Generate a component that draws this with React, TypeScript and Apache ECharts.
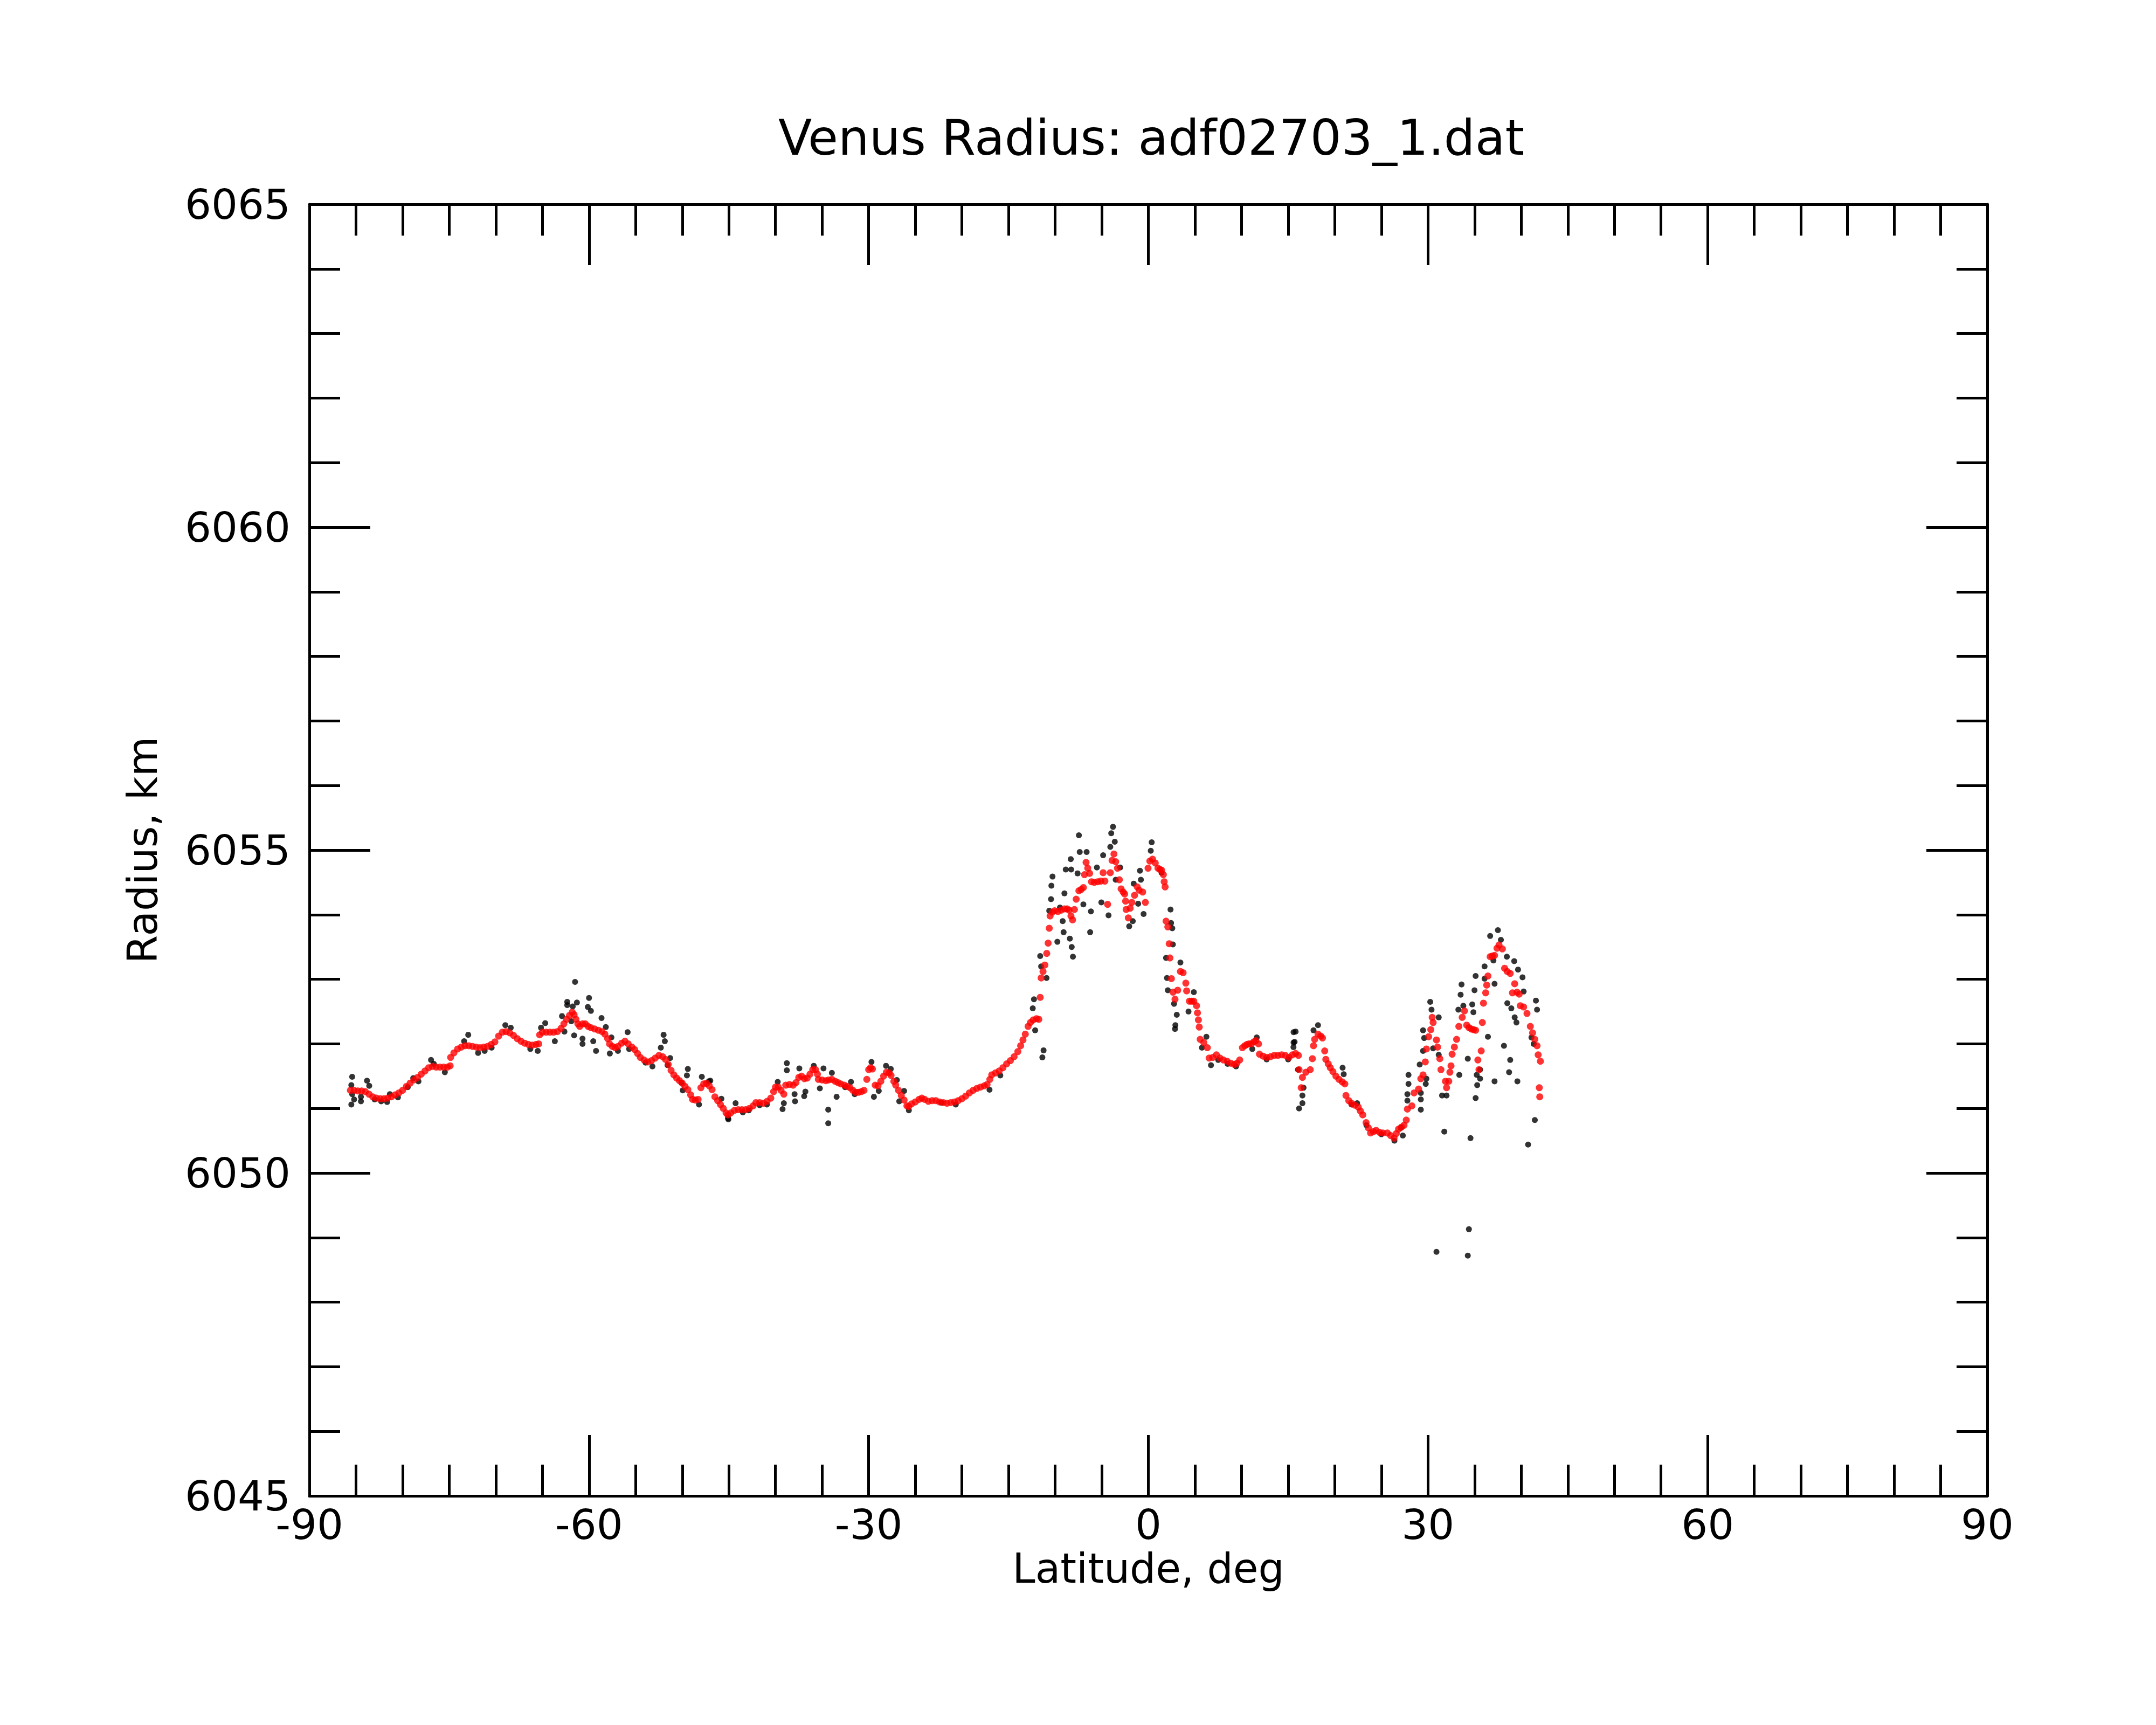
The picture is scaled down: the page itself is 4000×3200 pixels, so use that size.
import React, { useEffect, useRef } from "react";
import * as echarts from "echarts";

const titleText = "Venus Radius: adf02703_1.dat";
const xName = "Latitude, deg";
const yName = "Radius, km";
const xRange = [-90, 90];
const yRange = [6045, 6065];

// red: smoothed radius [latitude, radius]
const redPoints: [number, number][] = [
  [-85.6, 6051.28], [-85.2, 6051.28], [-84.8, 6051.27], [-84.4, 6051.27], [-84.0, 6051.26],
  [-83.6, 6051.22], [-83.2, 6051.18], [-82.8, 6051.16], [-82.4, 6051.15], [-82.0, 6051.15],
  [-81.6, 6051.16], [-81.2, 6051.18], [-80.8, 6051.21], [-80.4, 6051.24], [-80.0, 6051.28],
  [-79.6, 6051.34], [-79.2, 6051.39], [-78.8, 6051.44], [-78.4, 6051.48], [-78.0, 6051.53],
  [-77.6, 6051.58], [-77.2, 6051.63], [-76.8, 6051.65], [-76.4, 6051.64], [-76.0, 6051.64],
  [-75.6, 6051.64], [-75.2, 6051.64], [-74.9, 6051.66], [-74.85, 6051.79], [-74.5, 6051.86],
  [-74.1, 6051.92], [-73.7, 6051.95], [-73.3, 6051.97], [-72.9, 6051.97], [-72.5, 6051.96],
  [-72.1, 6051.95], [-71.7, 6051.94], [-71.3, 6051.95], [-70.9, 6051.96], [-70.5, 6051.99],
  [-70.1, 6052.03], [-69.7, 6052.12], [-69.3, 6052.18], [-68.9, 6052.19], [-68.5, 6052.17],
  [-68.1, 6052.13], [-67.7, 6052.08], [-67.3, 6052.04], [-66.9, 6052.01], [-66.5, 6051.99],
  [-66.1, 6051.98], [-65.7, 6051.99], [-65.4, 6052.0], [-65.3, 6052.14], [-65.0, 6052.18],
  [-64.6, 6052.18], [-64.2, 6052.18], [-63.8, 6052.18], [-63.4, 6052.19], [-63.0, 6052.24],
  [-62.7, 6052.31], [-62.4, 6052.38], [-62.1, 6052.44], [-61.8, 6052.49], [-61.6, 6052.45],
  [-61.4, 6052.38], [-61.2, 6052.31], [-61.0, 6052.27], [-60.7, 6052.31], [-60.4, 6052.31],
  [-60.1, 6052.27], [-59.8, 6052.25], [-59.4, 6052.23], [-59.0, 6052.21], [-58.6, 6052.19],
  [-58.3, 6052.15], [-58.0, 6052.08], [-57.8, 6052.0], [-57.5, 6051.96], [-57.2, 6051.94],
  [-56.9, 6051.96], [-56.5, 6052.01], [-56.15, 6052.04], [-55.8, 6052.0], [-55.4, 6051.95],
  [-55.1, 6051.91], [-54.8, 6051.85], [-54.5, 6051.79], [-54.1, 6051.75], [-53.7, 6051.72],
  [-53.3, 6051.74], [-52.9, 6051.78], [-52.5, 6051.82], [-52.1, 6051.8], [-51.8, 6051.76],
  [-51.5, 6051.68], [-51.2, 6051.59], [-50.9, 6051.52], [-50.6, 6051.47], [-50.3, 6051.43],
  [-50.0, 6051.39], [-49.7, 6051.34], [-49.4, 6051.29], [-49.1, 6051.21], [-48.9, 6051.14],
  [-48.6, 6051.13], [-48.3, 6051.14], [-48.0, 6051.32], [-47.7, 6051.38], [-47.4, 6051.39],
  [-47.1, 6051.35], [-46.8, 6051.29], [-46.5, 6051.18], [-46.2, 6051.12], [-45.9, 6051.06],
  [-45.6, 6051.0], [-45.3, 6050.93], [-45.1, 6050.9], [-44.8, 6050.93], [-44.4, 6050.97],
  [-44.0, 6050.98], [-43.6, 6050.98], [-43.2, 6050.98], [-42.8, 6051.0], [-42.4, 6051.04],
  [-42.1, 6051.09], [-41.7, 6051.09], [-41.3, 6051.08], [-40.9, 6051.11], [-40.5, 6051.16],
  [-40.2, 6051.26], [-40.0, 6051.33], [-39.7, 6051.33], [-39.4, 6051.28], [-39.1, 6051.22],
  [-38.9, 6051.36], [-38.5, 6051.37], [-38.1, 6051.36], [-37.8, 6051.4], [-37.5, 6051.48],
  [-37.2, 6051.5], [-36.9, 6051.46], [-36.6, 6051.47], [-36.3, 6051.53], [-36.0, 6051.6],
  [-35.7, 6051.6], [-35.5, 6051.53], [-35.4, 6051.45], [-35.0, 6051.44], [-34.6, 6051.43],
  [-34.3, 6051.44], [-33.95, 6051.45], [-33.6, 6051.42], [-33.3, 6051.4], [-33.0, 6051.38],
  [-32.6, 6051.36], [-32.3, 6051.34], [-32.0, 6051.32], [-31.7, 6051.28], [-31.4, 6051.25],
  [-31.1, 6051.25], [-30.8, 6051.26], [-30.5, 6051.28], [-30.2, 6051.45], [-30.0, 6051.6],
  [-29.8, 6051.63], [-29.6, 6051.61], [-29.3, 6051.36], [-29.0, 6051.35], [-28.7, 6051.42],
  [-28.4, 6051.5], [-28.1, 6051.56], [-27.8, 6051.55], [-27.6, 6051.51], [-27.3, 6051.42],
  [-27.1, 6051.36], [-26.8, 6051.28], [-26.5, 6051.2], [-26.2, 6051.13], [-25.9, 6051.04],
  [-25.7, 6051.03], [-25.4, 6051.07], [-25.0, 6051.1], [-24.6, 6051.14], [-24.3, 6051.16],
  [-24.0, 6051.14], [-23.6, 6051.11], [-23.2, 6051.12], [-22.8, 6051.12], [-22.4, 6051.1],
  [-22.0, 6051.09], [-21.6, 6051.08], [-21.2, 6051.09], [-20.8, 6051.1], [-20.4, 6051.12],
  [-20.0, 6051.15], [-19.6, 6051.19], [-19.2, 6051.24], [-18.8, 6051.28], [-18.4, 6051.31],
  [-18.0, 6051.33], [-17.6, 6051.35], [-17.3, 6051.37], [-17.0, 6051.45], [-16.8, 6051.52],
  [-16.4, 6051.55], [-16.0, 6051.58], [-15.6, 6051.63], [-15.2, 6051.69], [-14.8, 6051.74],
  [-14.4, 6051.8], [-14.0, 6051.88], [-13.7, 6051.97], [-13.45, 6052.06], [-13.2, 6052.15],
  [-12.9, 6052.27], [-12.65, 6052.33], [-12.35, 6052.37], [-12.0, 6052.39], [-11.75, 6052.38],
  [-11.6, 6052.72], [-11.5, 6053.02], [-11.3, 6053.12], [-11.1, 6053.22], [-10.9, 6053.4],
  [-10.75, 6053.56], [-10.63, 6053.79], [-10.54, 6053.98], [-10.3, 6054.04], [-10.05, 6054.06],
  [-9.7, 6054.05], [-9.35, 6054.07], [-9.0, 6054.09], [-8.7, 6054.09], [-8.5, 6054.07],
  [-8.3, 6053.98], [-8.13, 6053.92], [-7.93, 6054.08], [-7.74, 6054.24], [-7.45, 6054.37],
  [-7.2, 6054.39], [-6.97, 6054.42], [-6.85, 6054.62], [-6.68, 6054.81], [-6.5, 6054.72],
  [-6.3, 6054.64], [-6.1, 6054.51], [-5.8, 6054.5], [-5.43, 6054.51], [-5.1, 6054.52],
  [-4.85, 6054.65], [-4.66, 6054.52], [-4.37, 6054.16], [-4.08, 6054.65], [-3.89, 6054.84],
  [-3.69, 6054.94], [-3.5, 6054.82], [-3.31, 6054.72], [-3.11, 6054.54], [-2.92, 6054.4],
  [-2.7, 6054.35], [-2.54, 6054.32], [-2.44, 6054.21], [-2.38, 6054.08], [-2.15, 6053.95],
  [-1.95, 6054.1], [-1.77, 6054.19], [-1.48, 6054.3], [-1.19, 6054.43], [-0.99, 6054.38],
  [-0.61, 6054.35], [-0.32, 6054.19], [-0.03, 6054.72], [0.16, 6054.83], [0.45, 6054.86],
  [0.74, 6054.8], [1.03, 6054.72], [1.25, 6054.7], [1.42, 6054.69], [1.61, 6054.62],
  [1.7, 6054.51], [1.8, 6054.43], [1.9, 6053.9], [2.09, 6053.81], [2.24, 6053.55],
  [2.32, 6053.33], [2.47, 6053.01], [2.65, 6052.8], [2.86, 6052.69], [3.15, 6052.83],
  [3.44, 6053.12], [3.73, 6053.1], [4.02, 6052.94], [4.11, 6052.82], [4.4, 6052.66],
  [4.65, 6052.66], [4.88, 6052.66], [5.17, 6052.59], [5.27, 6052.48], [5.37, 6052.37],
  [5.46, 6052.26], [5.56, 6052.07], [5.95, 6052.02], [6.33, 6051.94], [6.52, 6051.78],
  [6.91, 6051.79], [7.3, 6051.83], [7.68, 6051.78], [8.05, 6051.75], [8.45, 6051.73],
  [8.85, 6051.7], [9.22, 6051.68], [9.5, 6051.7], [9.8, 6051.75], [10.09, 6051.94],
  [10.35, 6051.97], [10.57, 6051.99], [10.8, 6052.0], [11.05, 6052.0], [11.3, 6052.03],
  [11.53, 6052.05], [11.82, 6052.0], [11.92, 6051.84], [12.3, 6051.81], [12.69, 6051.79],
  [13.1, 6051.8], [13.5, 6051.82], [13.9, 6051.82], [14.3, 6051.83], [14.7, 6051.82],
  [15.09, 6051.79], [15.45, 6051.83], [15.8, 6051.85], [16.1, 6051.82], [16.17, 6051.6],
  [16.4, 6051.32], [16.53, 6051.48], [16.9, 6051.56], [17.37, 6051.6], [17.6, 6051.77],
  [17.72, 6051.97], [17.84, 6052.07], [18.2, 6052.15], [18.5, 6052.12], [18.68, 6052.09],
  [18.92, 6051.89], [19.04, 6051.76], [19.3, 6051.69], [19.52, 6051.63], [19.8, 6051.57],
  [20.12, 6051.5], [20.45, 6051.45], [20.8, 6051.41], [21.08, 6051.38], [21.2, 6051.2],
  [21.5, 6051.12], [21.8, 6051.08], [22.15, 6051.05], [22.52, 6051.02], [22.75, 6050.96],
  [23.0, 6050.9], [23.36, 6050.78], [23.6, 6050.7], [23.84, 6050.62], [24.15, 6050.64],
  [24.44, 6050.66], [24.8, 6050.63], [25.16, 6050.62], [25.64, 6050.62], [26.0, 6050.58],
  [26.36, 6050.54], [26.6, 6050.61], [26.84, 6050.68], [27.15, 6050.71], [27.43, 6050.74],
  [27.67, 6050.82], [27.79, 6050.99], [28.27, 6051.04], [28.51, 6051.24], [28.99, 6051.3],
  [29.23, 6051.46], [29.47, 6051.52], [29.71, 6051.72], [29.83, 6051.92], [30.07, 6052.11],
  [30.3, 6052.22], [30.45, 6052.41], [30.55, 6052.33], [30.91, 6052.06], [31.03, 6051.95],
  [31.27, 6051.77], [31.39, 6051.6], [31.87, 6051.42], [31.99, 6051.32], [32.23, 6051.42],
  [32.35, 6051.56], [32.47, 6051.66], [32.59, 6051.84], [32.83, 6051.95], [33.07, 6052.07],
  [33.31, 6052.27], [33.67, 6052.41], [33.91, 6052.51], [34.15, 6052.29], [34.4, 6052.25],
  [34.63, 6052.23], [34.87, 6052.22], [35.11, 6052.21], [35.35, 6051.75], [35.47, 6051.6],
  [35.71, 6051.89], [35.83, 6052.33], [35.95, 6052.63], [36.19, 6052.79], [36.3, 6052.91],
  [36.43, 6053.05], [36.67, 6053.35], [36.9, 6053.36], [37.14, 6053.37], [37.4, 6053.48],
  [37.62, 6053.53], [37.98, 6053.47], [38.22, 6053.17], [38.5, 6053.12], [38.82, 6053.09],
  [39.06, 6052.79], [39.3, 6052.93], [39.55, 6052.8], [39.78, 6052.77], [39.9, 6052.59],
  [40.26, 6052.57], [40.62, 6052.47], [40.98, 6052.27], [41.22, 6052.17], [41.46, 6052.07],
  [41.7, 6051.97], [41.82, 6051.83], [42.06, 6051.73], [41.94, 6051.32], [41.99, 6051.18],
];

// black: raw radius [latitude, radius]
const blackPoints: [number, number][] = [
  [-85.41, 6051.49], [-85.5, 6051.36], [-85.41, 6051.22], [-85.5, 6051.06], [-85.2, 6051.14],
  [-84.47, 6051.18], [-84.47, 6051.11], [-83.82, 6051.43], [-83.58, 6051.35], [-83.0, 6051.14],
  [-82.3, 6051.11], [-81.66, 6051.1], [-81.37, 6051.22], [-80.5, 6051.17], [-79.45, 6051.33],
  [-78.86, 6051.47], [-78.3, 6051.42], [-76.95, 6051.75], [-76.65, 6051.69], [-75.47, 6051.56],
  [-73.4, 6052.04], [-72.96, 6052.14], [-71.9, 6051.86], [-71.2, 6051.89], [-70.45, 6051.94],
  [-68.98, 6052.29], [-68.4, 6052.25], [-66.3, 6051.92], [-65.5, 6051.89], [-65.15, 6052.25],
  [-64.7, 6052.32], [-63.67, 6052.04], [-62.9, 6052.43], [-62.64, 6052.19], [-62.34, 6052.65],
  [-62.34, 6052.6], [-61.9, 6052.35], [-61.75, 6052.58], [-61.5, 6052.96], [-61.6, 6052.13],
  [-61.3, 6052.64], [-60.7, 6052.08], [-60.7, 6052.0], [-60.0, 6052.71], [-60.13, 6052.57],
  [-59.8, 6052.51], [-59.55, 6052.04], [-59.25, 6051.89], [-58.66, 6052.4], [-58.2, 6052.26],
  [-57.6, 6052.1], [-57.77, 6051.85], [-56.9, 6051.89], [-55.86, 6052.18], [-55.7, 6051.92],
  [-53.94, 6051.71], [-53.2, 6051.65], [-52.0, 6052.14], [-51.87, 6052.04], [-52.3, 6051.94],
  [-51.58, 6051.67], [-51.3, 6051.78], [-49.4, 6051.61], [-49.5, 6051.51], [-49.95, 6051.28],
  [-50.1, 6051.4], [-48.2, 6051.06], [-47.9, 6051.49], [-47.15, 6051.42], [-45.8, 6051.15],
  [-45.1, 6050.85], [-46.99, 6051.43], [-45.05, 6050.83], [-44.28, 6051.08], [-43.5, 6050.94],
  [-42.86, 6050.97], [-41.7, 6051.05], [-40.92, 6051.06], [-39.76, 6051.41], [-39.24, 6050.99],
  [-39.1, 6051.08], [-38.78, 6051.7], [-38.78, 6051.59], [-37.95, 6051.22], [-37.9, 6051.11],
  [-37.44, 6051.62], [-36.92, 6051.19], [-36.79, 6051.26], [-35.89, 6051.66], [-35.24, 6051.31],
  [-34.85, 6051.62], [-34.34, 6050.98], [-34.34, 6050.77], [-33.95, 6051.55], [-33.44, 6051.18],
  [-32.53, 6051.33], [-31.9, 6051.41], [-31.5, 6051.22], [-29.7, 6051.72], [-29.44, 6051.18],
  [-28.92, 6051.27], [-28.14, 6051.66], [-27.63, 6051.61], [-26.98, 6051.44], [-26.72, 6051.11],
  [-26.2, 6051.27], [-25.69, 6050.97], [-22.2, 6051.09], [-20.66, 6051.06], [-17.04, 6051.29],
  [-15.88, 6051.51], [-12.4, 6052.55], [-12.27, 6052.69], [-12.14, 6052.21], [-11.24, 6051.9],
  [-11.37, 6051.79], [-11.6, 6053.36], [-11.5, 6053.2], [-10.92, 6053.02], [-10.44, 6054.24],
  [-10.4, 6054.45], [-10.28, 6054.59], [-10.63, 6054.06], [-9.76, 6053.58], [-9.48, 6054.11],
  [-9.19, 6053.9], [-9.09, 6053.73], [-8.86, 6054.7], [-9.0, 6054.33], [-8.32, 6054.86],
  [-8.28, 6054.7], [-8.42, 6053.63], [-8.22, 6053.5], [-8.09, 6053.35], [-7.59, 6054.64],
  [-7.45, 6055.23], [-7.36, 6054.97], [-6.97, 6054.16], [-6.62, 6054.97], [-6.24, 6053.73],
  [-6.16, 6054.05], [-5.52, 6054.73], [-5.04, 6054.19], [-4.85, 6054.92], [-4.27, 6053.99],
  [-3.98, 6055.26], [-3.79, 6055.36], [-3.6, 6055.13], [-4.08, 6055.05], [-3.5, 6054.54],
  [-3.02, 6054.73], [-2.05, 6053.82], [-1.67, 6053.9], [-1.57, 6054.48], [-0.9, 6054.68],
  [-0.8, 6054.54], [-1.09, 6054.17], [-0.51, 6054.01], [0.36, 6055.12], [0.26, 6054.99],
  [1.42, 6054.65], [2.38, 6054.08], [2.44, 6053.87], [2.57, 6053.79], [2.63, 6053.54],
  [1.9, 6053.33], [2.0, 6053.02], [2.09, 6052.83], [2.76, 6052.62], [3.05, 6052.45],
  [2.9, 6052.29], [2.86, 6052.23], [3.44, 6053.26], [4.31, 6052.5], [4.88, 6052.8],
  [6.23, 6052.11], [5.75, 6051.94], [6.72, 6051.67], [7.5, 6051.75], [8.5, 6051.69],
  [9.41, 6051.65], [11.15, 6051.92], [11.63, 6052.1], [12.69, 6051.76], [15.0, 6051.76],
  [15.58, 6052.18], [15.58, 6052.02], [15.8, 6052.19], [15.69, 6052.03], [15.57, 6051.95],
  [16.53, 6051.2], [16.53, 6051.08], [16.17, 6051.0], [16.05, 6051.6], [16.65, 6051.32],
  [18.2, 6052.29], [17.72, 6052.21], [20.84, 6051.63], [20.96, 6051.53], [21.8, 6051.06],
  [22.4, 6051.08], [23.4, 6050.74], [25.0, 6050.6], [26.4, 6050.5], [27.3, 6050.58],
  [27.07, 6050.7], [27.91, 6051.52], [27.79, 6051.22], [27.91, 6051.38], [27.79, 6051.12],
  [29.11, 6051.68], [29.23, 6050.98], [29.23, 6051.24], [29.23, 6051.14], [29.47, 6052.21],
  [29.47, 6051.89], [29.59, 6052.09], [29.76, 6051.38], [29.83, 6051.46], [30.24, 6052.65],
  [30.38, 6052.53], [31.15, 6052.41], [30.55, 6051.93], [31.15, 6051.83], [31.51, 6051.2],
  [31.99, 6051.2], [31.75, 6050.64], [30.91, 6048.78], [33.36, 6051.52], [33.6, 6052.92],
  [33.5, 6052.76], [33.79, 6052.59], [33.26, 6052.53], [34.27, 6051.77], [34.56, 6050.54],
  [34.39, 6049.13], [34.27, 6048.72], [34.75, 6052.61], [34.87, 6052.49], [34.99, 6052.83],
  [35.11, 6053.05], [35.23, 6051.52], [35.28, 6051.36], [35.11, 6051.16], [35.59, 6051.46],
  [35.59, 6051.6], [36.07, 6053.2], [36.07, 6053.01], [36.43, 6052.11], [36.67, 6053.67],
  [37.02, 6053.29], [37.14, 6052.93], [37.5, 6053.76], [37.82, 6053.61], [37.14, 6051.42],
  [38.15, 6051.97], [38.46, 6053.35], [38.51, 6052.63], [38.82, 6051.75], [38.7, 6051.56],
  [38.94, 6052.55], [39.25, 6053.28], [39.3, 6052.41], [39.49, 6052.33], [39.66, 6053.15],
  [39.59, 6051.42], [40.14, 6053.03], [40.26, 6052.81], [40.74, 6050.44], [41.46, 6050.82],
  [41.58, 6052.67], [41.7, 6052.53], [41.1, 6052.1], [41.34, 6052.0],
];

const FONT = "DejaVu Sans";
const BLACK = "#000000";

export default function App() {
  const ref = useRef<HTMLDivElement>(null);
  useEffect(() => {
    if (!ref.current) return;
    const chart = echarts.init(ref.current, null, { renderer: "svg" });
    const line = { color: BLACK, width: 5 };
    const label = { fontSize: 77, color: BLACK, fontFamily: FONT };
    const nameStyle = { fontSize: 76, color: BLACK, fontFamily: FONT };
    const xBase = {
      type: "value",
      min: xRange[0],
      max: xRange[1],
      interval: 30,
      axisLine: { show: true, onZero: false, lineStyle: line },
      axisTick: { show: true, inside: true, length: 113, lineStyle: line },
      minorTick: { show: true, splitNumber: 6, length: 58, lineStyle: line },
      splitLine: { show: false },
      minorSplitLine: { show: false },
    };
    const yBase = {
      type: "value",
      min: yRange[0],
      max: yRange[1],
      interval: 5,
      axisLine: { show: true, onZero: false, lineStyle: line },
      axisTick: { show: true, inside: true, length: 113, lineStyle: line },
      minorTick: { show: true, splitNumber: 5, length: 57, lineStyle: line },
      splitLine: { show: false },
      minorSplitLine: { show: false },
    };
    chart.setOption({
      animation: false,
      backgroundColor: "#ffffff",
      title: {
        text: titleText,
        left: 2131,
        top: 205,
        textAlign: "center",
        textStyle: { fontSize: 91, fontWeight: "normal", color: BLACK, fontFamily: FONT },
      },
      grid: { left: 574, top: 379, width: 3113, height: 2396, containLabel: false },
      xAxis: [
        {
          ...xBase,
          position: "bottom",
          axisLabel: { ...label, margin: 15, formatter: (v: number) => String(v) },
          name: xName,
          nameLocation: "middle",
          nameGap: 94,
          nameTextStyle: nameStyle,
        },
        { ...xBase, position: "top", axisLabel: { show: false } },
      ],
      yAxis: [
        {
          ...yBase,
          position: "left",
          axisLabel: { ...label, margin: 35, formatter: (v: number) => String(v) },
          name: yName,
          nameLocation: "middle",
          nameGap: 272,
          nameRotate: 90,
          nameTextStyle: nameStyle,
        },
        { ...yBase, position: "right", axisLabel: { show: false } },
      ],
      series: [
        {
          type: "scatter",
          name: "raw",
          xAxisIndex: 0,
          yAxisIndex: 0,
          data: blackPoints,
          symbol: "circle",
          symbolSize: 11,
          itemStyle: { color: BLACK },
          silent: true,
        },
        {
          type: "scatter",
          name: "smoothed",
          xAxisIndex: 0,
          yAxisIndex: 0,
          data: redPoints,
          symbol: "circle",
          symbolSize: 13,
          itemStyle: { color: "#ff0000" },
          silent: true,
        },
      ],
    });
    return () => chart.dispose();
  }, []);
  return (
    <div
      ref={ref}
      style={{ position: "absolute", left: 0, top: 0, width: 4000, height: 3200, background: "#fff" }}
    />
  );
}
